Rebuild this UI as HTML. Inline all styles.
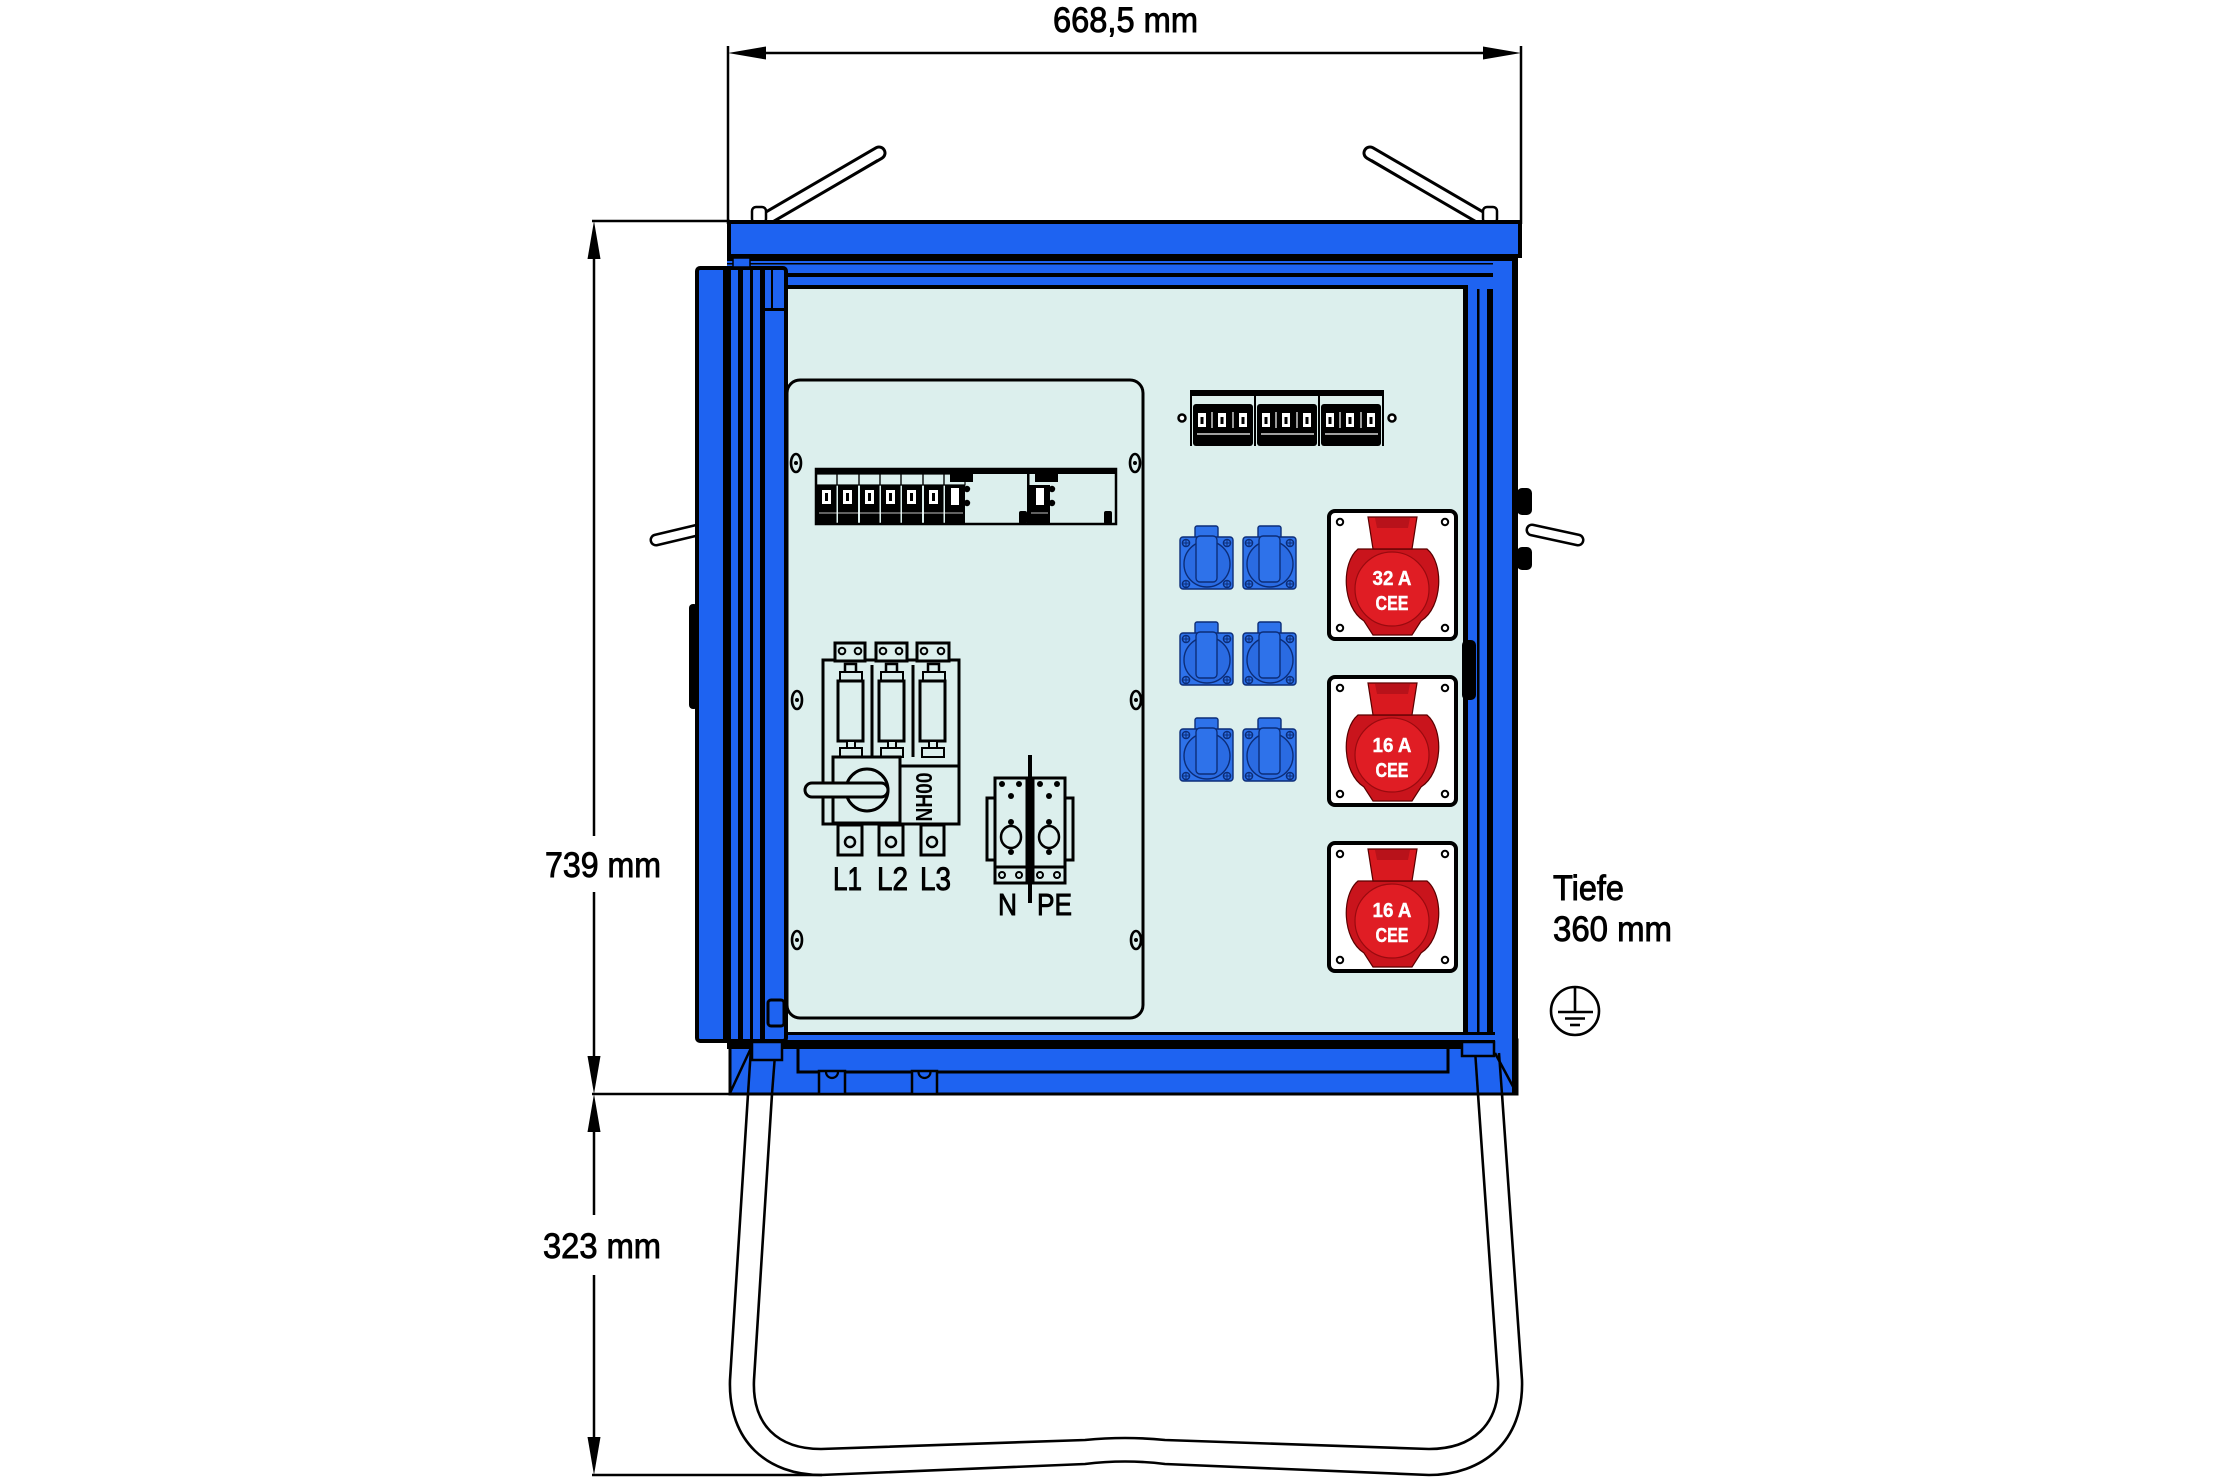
<!DOCTYPE html>
<html><head><meta charset="utf-8">
<style>
html,body{margin:0;padding:0;background:#fff;}
svg{display:block;}
text{font-family:"Liberation Sans Narrow","Liberation Sans",Arial,sans-serif;}
</style></head><body>
<svg width="2216" height="1477" viewBox="0 0 2216 1477" xmlns="http://www.w3.org/2000/svg">
<defs>
 <g id="sock" stroke="#0c2d78" stroke-width="1.4" fill="#2e72ea">
  <rect x="15" y="-11" width="23" height="16" rx="2"/>
  <rect x="0" y="0" width="53" height="52" rx="3"/>
  <circle cx="27" cy="27" r="23" fill="#2a6be2"/>
  <rect x="16" y="-1" width="21" height="46" rx="4"/>
  <circle cx="6" cy="6" r="3.6"/><circle cx="47" cy="6" r="3.6"/><circle cx="6" cy="47" r="3.6"/><circle cx="47" cy="47" r="3.6"/>
  <path d="M3,6h6M6,3v6M44,6h6M47,3v6M3,47h6M6,44v6M44,47h6M47,44v6" stroke-width="1" fill="none"/>
 </g>
 <g id="cee">
  <rect x="2" y="2" width="127" height="128" rx="6" fill="#fff" stroke="#000" stroke-width="4"/>
  <g fill="#fff" stroke="#000" stroke-width="2"><circle cx="13" cy="13" r="3.2"/><circle cx="118" cy="13" r="3.2"/><circle cx="13" cy="119" r="3.2"/><circle cx="118" cy="119" r="3.2"/></g>
  <path d="M31,40 C14,54 15,98 37,112 L46,126 L85,126 L94,112 C116,98 117,54 100,40 Z" fill="#c9141c" stroke="#5a0000" stroke-width="1.2"/>
  <circle cx="65" cy="80" r="37" fill="#e01d24" stroke="#9a0a0f" stroke-width="1.2"/>
  <path d="M41,8 L90,8 L85,40 L46,40 Z" fill="#d9191f" stroke="#5a0000" stroke-width="1.2"/>
  <path d="M48,9 L83,9 L81,19 L50,19 Z" fill="#b8121a"/>
 </g>
 <g id="scrw"><ellipse rx="5" ry="9" fill="none" stroke="#000" stroke-width="2.6"/><circle r="2" fill="#000"/></g>
</defs>
<rect width="2216" height="1477" fill="#fff"/>

<!-- dimension lines -->
<g stroke="#000" stroke-width="2.5">
<line x1="728" y1="46" x2="728" y2="224"/>
<line x1="1521" y1="46" x2="1521" y2="224"/>
<line x1="755" y1="53" x2="1494" y2="53"/>
<line x1="592" y1="221" x2="730" y2="221"/>
<line x1="592" y1="1094" x2="732" y2="1094"/>
<line x1="592" y1="1475" x2="822" y2="1475"/>
<line x1="594" y1="250" x2="594" y2="836"/>
<line x1="594" y1="892" x2="594" y2="1065"/>
<line x1="594" y1="1123" x2="594" y2="1215"/>
<line x1="594" y1="1275" x2="594" y2="1446"/>
</g>
<g fill="#000">
<polygon points="728,53 766,46.5 766,59.5"/>
<polygon points="1521,53 1483,46.5 1483,59.5"/>
<polygon points="594,221 587.5,259 600.5,259"/>
<polygon points="594,1094 587.5,1056 600.5,1056"/>
<polygon points="594,1094 587.5,1132 600.5,1132"/>
<polygon points="594,1475 587.5,1437 600.5,1437"/>
</g>

<!-- legs loop -->
<g fill="none" stroke="#000" stroke-width="2.6">
<path d="M748,1094 L730,1380 C728,1442 768,1475 821,1475 L1085,1464 Q1125,1459 1165,1464 L1429,1475 C1482,1475 1524,1442 1522,1380 L1502,1094"/>
<path d="M772,1094 L754,1380 C752,1425 778,1449 821,1449 L1085,1440 Q1125,1436 1165,1440 L1429,1449 C1472,1449 1500,1425 1498,1380 L1478,1094"/>
</g>

<!-- top handles -->
<g stroke-linecap="round">
<line x1="764" y1="220" x2="879" y2="153" stroke="#000" stroke-width="15"/>
<line x1="764" y1="220" x2="879" y2="153" stroke="#fff" stroke-width="9"/>
<line x1="774" y1="221" x2="877" y2="160" stroke="#000" stroke-width="1.5"/>
<line x1="1485" y1="220" x2="1370" y2="153" stroke="#000" stroke-width="15"/>
<line x1="1485" y1="220" x2="1370" y2="153" stroke="#fff" stroke-width="9"/>
<line x1="1475" y1="221" x2="1372" y2="160" stroke="#000" stroke-width="1.5"/>
</g>
<rect x="752" y="207" width="14" height="16" rx="4" fill="#fff" stroke="#000" stroke-width="2.5"/>
<rect x="1483" y="207" width="14" height="16" rx="4" fill="#fff" stroke="#000" stroke-width="2.5"/>

<!-- base -->
<rect x="730" y="1040" width="787" height="54" fill="#1e63f1" stroke="#000" stroke-width="3"/>
<rect x="798" y="1044" width="650" height="28" fill="#1e63f1" stroke="#000" stroke-width="3"/>
<g fill="#1e63f1" stroke="#000" stroke-width="2.5">
<rect x="819" y="1071" width="26" height="23"/>
<rect x="912" y="1071" width="25" height="23"/>
</g>
<g fill="none" stroke="#000" stroke-width="2.2">
<path d="M826,1072 a6,6 0 0 0 12,0"/>
<path d="M918.5,1072 a6,6 0 0 0 12,0"/>
</g>
<g stroke="#000" stroke-width="2.5">
<line x1="730" y1="1093" x2="751" y2="1048"/>
<line x1="748" y1="1094" x2="751" y2="1048"/>
<line x1="772" y1="1094" x2="775" y2="1055"/>
<line x1="1478" y1="1094" x2="1475" y2="1050"/>
<line x1="1502" y1="1094" x2="1499" y2="1053"/>
<line x1="1495" y1="1053" x2="1517" y2="1094"/>
</g>

<!-- right column -->
<rect x="1460" y="255" width="58" height="790" fill="#1e63f1"/>
<g fill="#000">
<rect x="1463" y="261" width="5" height="784"/>
<rect x="1477" y="261" width="2.5" height="784"/>
<rect x="1487" y="261" width="6" height="784"/>
<rect x="1512" y="255" width="6" height="839"/>
</g>
<!-- top strips -->
<rect x="727" y="255" width="766" height="34" fill="#1e63f1"/>
<g fill="#000">
<rect x="727" y="255" width="791" height="6"/>
<rect x="727" y="263" width="766" height="1.5"/>
<rect x="727" y="273" width="766" height="4"/>
<rect x="787" y="285" width="681" height="4"/>
</g>
<!-- panel -->
<rect x="787" y="289" width="676" height="743" fill="#dcefed"/>
<!-- bottom strips -->
<rect x="727" y="1032" width="768" height="3" fill="#000"/>
<rect x="727" y="1035" width="766" height="5" fill="#1e63f1"/>
<rect x="727" y="1040" width="768" height="9" fill="#000"/>
<rect x="752" y="1042" width="30" height="18" fill="#1e63f1" stroke="#000" stroke-width="2.5"/>
<rect x="1462" y="1042" width="32" height="14" fill="#1e63f1" stroke="#000" stroke-width="2.5"/>
<!-- top bar -->
<rect x="729" y="222" width="791" height="34" fill="#1e63f1" stroke="#000" stroke-width="4"/>

<!-- right latch / knobs / handle -->
<rect x="1462" y="640" width="14" height="60" rx="5" fill="#000"/>
<rect x="1517" y="488" width="15" height="27" rx="5" fill="#000"/>
<rect x="1517" y="547" width="15" height="23" rx="5" fill="#000"/>
<g stroke-linecap="round">
<line x1="1532" y1="530" x2="1578" y2="540" stroke="#000" stroke-width="13"/>
<line x1="1532" y1="530" x2="1578" y2="540" stroke="#fff" stroke-width="8"/>
</g>

<!-- left handle and bump -->
<g stroke-linecap="round">
<line x1="656" y1="540" x2="698" y2="530" stroke="#000" stroke-width="13"/>
<line x1="656" y1="540" x2="698" y2="530" stroke="#fff" stroke-width="8"/>
</g>
<rect x="689" y="604" width="9" height="105" rx="4" fill="#000"/>

<!-- door -->
<rect x="697" y="268" width="89" height="773" rx="3" fill="#1e63f1" stroke="#000" stroke-width="4"/>
<g fill="#000">
<rect x="723" y="268" width="8" height="773"/>
<rect x="738" y="268" width="5" height="773"/>
<rect x="750" y="268" width="3" height="773"/>
<rect x="760" y="268" width="5" height="773"/>
<rect x="765" y="308" width="19" height="3"/>
<rect x="771" y="268" width="2" height="41"/>
</g>
<rect x="733" y="258" width="17" height="9" fill="#1e63f1" stroke="#000" stroke-width="1.5"/>
<rect x="768" y="1000" width="16" height="26" rx="3" fill="#1e63f1" stroke="#000" stroke-width="3"/>

<!-- left panel -->
<rect x="787" y="380" width="356" height="638" rx="13" fill="#dcefed" stroke="#000" stroke-width="3"/>
<use href="#scrw" transform="translate(796,463)"/>
<use href="#scrw" transform="translate(1135,463)"/>
<use href="#scrw" transform="translate(797,700)"/>
<use href="#scrw" transform="translate(1136,700)"/>
<use href="#scrw" transform="translate(797,940)"/>
<use href="#scrw" transform="translate(1136,940)"/>

<!-- breaker strip left -->
<rect x="816" y="469" width="300" height="55" fill="#dcefed" stroke="#000" stroke-width="2.5"/>
<rect x="815" y="468" width="302" height="6" fill="#000"/>
<g>
 <g fill="none" stroke="#000" stroke-width="1.2">
  <rect x="816" y="474" width="21" height="11"/><rect x="837" y="474" width="22" height="11"/><rect x="859" y="474" width="21" height="11"/>
  <rect x="880" y="474" width="21" height="11"/><rect x="901" y="474" width="22" height="11"/><rect x="923" y="474" width="21" height="11"/>
  <rect x="944" y="474" width="21" height="11"/>
 </g>
 <g fill="#000">
  <rect x="817" y="485" width="19.5" height="39"/><rect x="838" y="485" width="20" height="39"/><rect x="860" y="485" width="19.5" height="39"/>
  <rect x="881" y="485" width="19.5" height="39"/><rect x="902" y="485" width="20" height="39"/><rect x="924" y="485" width="19.5" height="39"/>
  <rect x="945" y="485" width="20" height="39"/>
  <rect x="950" y="474" width="23" height="8"/>
  <rect x="1029" y="485" width="21" height="39"/>
  <rect x="1035" y="474" width="23" height="8"/>
  <rect x="1019" y="511" width="8" height="13" rx="2"/>
  <rect x="1104" y="511" width="8" height="13" rx="2"/>
  <rect x="1027" y="469" width="2.5" height="55"/>
  <circle cx="967" cy="489" r="3.2"/><circle cx="967" cy="503" r="3.2"/>
  <circle cx="1052" cy="489" r="3.2"/><circle cx="1052" cy="503" r="3.2"/>
 </g>
 <g fill="#fff">
  <rect x="822" y="490" width="9" height="14"/><rect x="843" y="490" width="9" height="14"/><rect x="865" y="490" width="9" height="14"/>
  <rect x="886" y="490" width="9" height="14"/><rect x="907" y="490" width="9" height="14"/><rect x="929" y="490" width="9" height="14"/>
  <rect x="951" y="488" width="8" height="17"/><rect x="1036" y="488" width="8" height="17"/>
 </g>
 <g fill="#000">
  <rect x="825" y="493" width="3" height="8"/><rect x="846" y="493" width="3" height="8"/><rect x="868" y="493" width="3" height="8"/>
  <rect x="889" y="493" width="3" height="8"/><rect x="910" y="493" width="3" height="8"/><rect x="932" y="493" width="3" height="8"/>
 </g>
 <path d="M819,513H963M1031,513H1048" stroke="#fff" stroke-width="0.8"/>
</g>

<!-- main switch -->
<g fill="#dcefed" stroke="#000" stroke-width="3">
 <rect x="823" y="660" width="136" height="164"/>
 <rect x="835" y="643" width="30" height="18"/>
 <rect x="876" y="643" width="31" height="18"/>
 <rect x="917" y="643" width="32" height="18"/>
 <rect x="845" y="664" width="11" height="17" stroke-width="2.5"/>
 <rect x="886" y="664" width="11" height="17" stroke-width="2.5"/>
 <rect x="928" y="664" width="11" height="17" stroke-width="2.5"/>
 <rect x="840" y="672" width="22" height="9" stroke-width="2"/>
 <rect x="881" y="672" width="22" height="9" stroke-width="2"/>
 <rect x="923" y="672" width="22" height="9" stroke-width="2"/>
 <rect x="838" y="681" width="25" height="60"/>
 <rect x="879" y="681" width="25" height="60"/>
 <rect x="920" y="681" width="25" height="60"/>
 <rect x="847" y="741" width="8" height="16" stroke-width="2"/>
 <rect x="888" y="741" width="8" height="16" stroke-width="2"/>
 <rect x="929" y="741" width="8" height="16" stroke-width="2"/>
 <rect x="840" y="748" width="22" height="9" stroke-width="2"/>
 <rect x="881" y="748" width="22" height="9" stroke-width="2"/>
 <rect x="922" y="748" width="22" height="9" stroke-width="2"/>
 <line x1="872" y1="665" x2="872" y2="757"/>
 <line x1="913" y1="665" x2="913" y2="757"/>
 <line x1="900" y1="766" x2="959" y2="766"/>
 <rect x="833" y="757" width="67" height="66"/>
 <circle cx="867" cy="790" r="21"/>
 <rect x="805" y="783" width="83" height="14" rx="7"/>
 <rect x="838" y="825" width="24" height="30"/>
 <rect x="879" y="825" width="24" height="30"/>
 <rect x="921" y="825" width="23" height="30"/>
 <circle cx="850" cy="842" r="5" stroke-width="2.5"/>
 <circle cx="891" cy="842" r="5" stroke-width="2.5"/>
 <circle cx="932" cy="842" r="5" stroke-width="2.5"/>
 <g stroke-width="2"><circle cx="842" cy="651" r="3.3"/><circle cx="858" cy="651" r="3.3"/><circle cx="883" cy="651" r="3.3"/><circle cx="899" cy="651" r="3.3"/><circle cx="924" cy="651" r="3.3"/><circle cx="941" cy="651" r="3.3"/></g>
</g>
<text transform="translate(932,797) rotate(-90)" text-anchor="middle" font-size="23" font-weight="bold" textLength="49" lengthAdjust="spacingAndGlyphs">NH00</text>
<g font-size="32" stroke="#000" stroke-width="0.9">
<text x="833" y="890" textLength="29" lengthAdjust="spacingAndGlyphs">L1</text>
<text x="877" y="890" textLength="31" lengthAdjust="spacingAndGlyphs">L2</text>
<text x="920" y="890" textLength="31" lengthAdjust="spacingAndGlyphs">L3</text>
</g>

<!-- N / PE -->
<g fill="#dcefed" stroke="#000" stroke-width="3">
 <rect x="987" y="798" width="9" height="62"/>
 <rect x="1064" y="798" width="9" height="62"/>
 <rect x="995" y="778" width="32" height="105"/>
 <rect x="1033" y="778" width="32" height="105"/>
 <line x1="995" y1="867" x2="1027" y2="867"/>
 <line x1="1033" y1="867" x2="1065" y2="867"/>
 <ellipse cx="1011" cy="837" rx="10" ry="11" stroke-width="2.5"/>
 <ellipse cx="1049" cy="837" rx="10" ry="11" stroke-width="2.5"/>
 <g stroke-width="2"><circle cx="1002" cy="875" r="3"/><circle cx="1019" cy="875" r="3"/><circle cx="1040" cy="875" r="3"/><circle cx="1057" cy="875" r="3"/></g>
</g>
<g fill="#000">
 <circle cx="1002" cy="784" r="3"/><circle cx="1019" cy="784" r="3"/><circle cx="1011" cy="796" r="3"/>
 <circle cx="1040" cy="784" r="3"/><circle cx="1057" cy="784" r="3"/><circle cx="1049" cy="796" r="3"/>
 <circle cx="1011" cy="822" r="3"/><circle cx="1011" cy="852" r="3"/>
 <circle cx="1049" cy="822" r="3"/><circle cx="1049" cy="852" r="3"/>
 <rect x="1028" y="755" width="4" height="148"/>
</g>
<g font-size="31" stroke="#000" stroke-width="0.9">
<text x="998" y="915" textLength="19" lengthAdjust="spacingAndGlyphs">N</text>
<text x="1037" y="915" textLength="35" lengthAdjust="spacingAndGlyphs">PE</text>
</g>

<!-- right breaker strip -->
<rect x="1191" y="391" width="192" height="55" fill="#dcefed"/>
<rect x="1190" y="390" width="194" height="6" fill="#000"/>
<g fill="#000">
 <rect x="1193" y="404" width="60" height="42" rx="3"/>
 <rect x="1257" y="404" width="60" height="42" rx="3"/>
 <rect x="1321" y="404" width="60" height="42" rx="3"/>
</g>
<g stroke="#000" stroke-width="2">
 <line x1="1191" y1="391" x2="1191" y2="446"/><line x1="1255" y1="391" x2="1255" y2="446"/>
 <line x1="1319" y1="391" x2="1319" y2="446"/><line x1="1383" y1="391" x2="1383" y2="446"/>
</g>
<g fill="#fff">
 <rect x="1198" y="413" width="8" height="14"/><rect x="1218" y="413" width="8" height="14"/><rect x="1239" y="413" width="8" height="14"/>
 <rect x="1262" y="413" width="8" height="14"/><rect x="1282" y="413" width="8" height="14"/><rect x="1303" y="413" width="8" height="14"/>
 <rect x="1326" y="413" width="8" height="14"/><rect x="1346" y="413" width="8" height="14"/><rect x="1367" y="413" width="8" height="14"/>
</g>
<g fill="#000">
 <rect x="1200.5" y="417" width="3" height="7"/><rect x="1220.5" y="417" width="3" height="7"/><rect x="1241.5" y="417" width="3" height="7"/>
 <rect x="1264.5" y="417" width="3" height="7"/><rect x="1284.5" y="417" width="3" height="7"/><rect x="1305.5" y="417" width="3" height="7"/>
 <rect x="1328.5" y="417" width="3" height="7"/><rect x="1348.5" y="417" width="3" height="7"/><rect x="1369.5" y="417" width="3" height="7"/>
</g>
<path d="M1212,412V428M1233,412V428M1276,412V428M1297,412V428M1340,412V428M1361,412V428M1197,434H1250M1261,434H1314M1325,434H1378" stroke="#fff" stroke-width="1.2"/>
<g fill="#fff" stroke="#000" stroke-width="2.5"><circle cx="1182" cy="418" r="3.5"/><circle cx="1392" cy="418" r="3.5"/></g>

<!-- blue sockets -->
<use href="#sock" transform="translate(1180,537)"/>
<use href="#sock" transform="translate(1243,537)"/>
<use href="#sock" transform="translate(1180,633)"/>
<use href="#sock" transform="translate(1243,633)"/>
<use href="#sock" transform="translate(1180,729)"/>
<use href="#sock" transform="translate(1243,729)"/>

<!-- CEE sockets -->
<use href="#cee" transform="translate(1327,509)"/>
<use href="#cee" transform="translate(1327,675)"/>
<use href="#cee" transform="translate(1327,841)"/>
<g fill="#fff" font-weight="bold" font-size="20" text-anchor="middle" stroke="#fff" stroke-width="0.4">
<text x="1392" y="585" textLength="39" lengthAdjust="spacingAndGlyphs">32 A</text>
<text x="1392" y="610" textLength="33" lengthAdjust="spacingAndGlyphs">CEE</text>
<text x="1392" y="752" textLength="39" lengthAdjust="spacingAndGlyphs">16 A</text>
<text x="1392" y="777" textLength="33" lengthAdjust="spacingAndGlyphs">CEE</text>
<text x="1392" y="917" textLength="39" lengthAdjust="spacingAndGlyphs">16 A</text>
<text x="1392" y="942" textLength="33" lengthAdjust="spacingAndGlyphs">CEE</text>
</g>

<!-- ground symbol -->
<g fill="none" stroke="#000" stroke-width="2.6">
<circle cx="1575" cy="1011" r="24"/>
<line x1="1575" y1="987" x2="1575" y2="1012"/>
<line x1="1558" y1="1012" x2="1593" y2="1012"/>
<line x1="1565" y1="1018.5" x2="1585" y2="1018.5"/>
<line x1="1570" y1="1025" x2="1580" y2="1025"/>
</g>

<!-- dimension texts -->
<g font-size="35" fill="#000" stroke="#000" stroke-width="0.9">
<text x="1053" y="32" textLength="145" lengthAdjust="spacingAndGlyphs">668,5 mm</text>
<text x="545" y="877" textLength="116" lengthAdjust="spacingAndGlyphs">739 mm</text>
<text x="543" y="1258" textLength="118" lengthAdjust="spacingAndGlyphs">323 mm</text>
<text x="1553" y="900" textLength="71" lengthAdjust="spacingAndGlyphs">Tiefe</text>
<text x="1553" y="941" textLength="119" lengthAdjust="spacingAndGlyphs">360 mm</text>
</g>
</svg>
</body></html>
